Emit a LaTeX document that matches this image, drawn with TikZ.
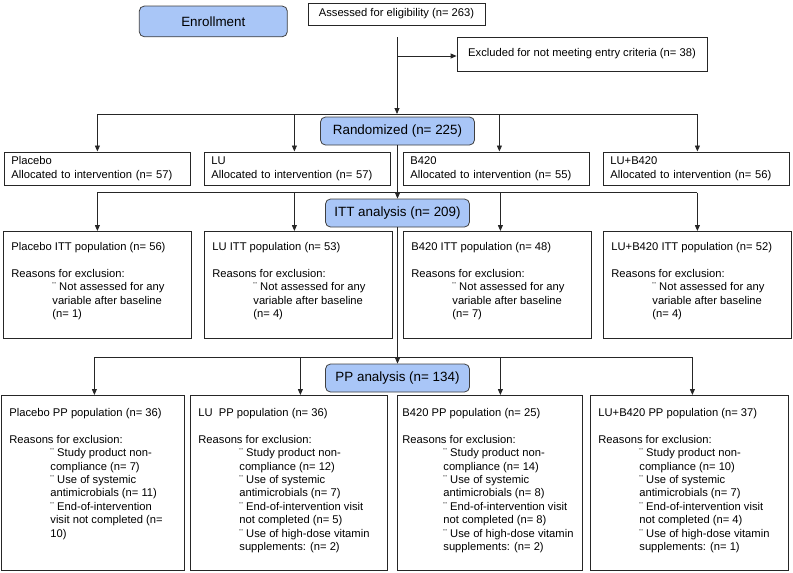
\documentclass[tikz,border=0pt]{standalone}
\usepackage{fontspec}
\setmainfont{Liberation Sans}
\usetikzlibrary{arrows.meta}
\definecolor{headblue}{RGB}{169,198,247}
\tikzset{>={Triangle[length=6pt,width=5pt]}}
\tikzset{
  head/.style={draw=black!75, fill=headblue, rounded corners=5pt, inner sep=0pt,
    font=\fontsize{13.4}{16}\selectfont},
  plain/.style={draw=black!85, inner sep=0pt, font=\fontsize{11.2}{13.4}\selectfont},
  alloc/.style={draw=black!85, anchor=north west, align=left, text width=172pt,
    inner xsep=7pt, inner ysep=0pt, minimum height=33.5pt,
    font=\fontsize{11.2}{13.4}\selectfont},
  popbox/.style={draw=black!85, anchor=north west, inner xsep=8pt, inner ysep=#1,
    font=\fontsize{11.2}{13.4}\selectfont},
  wire/.style={black!85, line width=0.8pt}
}
\newcommand{\boxtext}[3]{\parbox[c][#1][t]{#2}{\raggedright #3}}
\newcommand{\bul}{\hspace*{41pt}}

\begin{document}
\begin{tikzpicture}[x=1pt,y=-1pt,line width=0.8pt]
    \useasboundingbox (0,0) rectangle (793,573);
    \node[head, minimum width=148pt, minimum height=30.7pt] (enrol) at (213.3,21.4) {Enrollment};
    \node[plain, minimum width=177pt, minimum height=22pt] (assess) at (396.5,14) {Assessed for eligibility (n= 263)};
    \node[plain, minimum width=250pt, minimum height=34pt] (excl) at (582,54) {Excluded for not meeting entry criteria (n= 38)};
    \node[head, minimum width=154pt, minimum height=28pt] (rand) at (397.5,131) {Randomized (n= 225)};
    \node[head, minimum width=144pt, minimum height=28pt] (itt) at (397.5,213) {ITT analysis (n= 209)};
    \node[head, minimum width=144pt, minimum height=28pt] (pp) at (397.5,378) {PP analysis (n= 134)};

    \node[alloc] (alA) at (4,151.5) {Placebo\\Allocated to intervention (n= 57)};
    \node[alloc] (alB) at (204,151.5) {LU\\Allocated to intervention (n= 57)};
    \node[alloc] (alC) at (403,151.5) {B420\\Allocated to intervention (n= 55)};
    \node[alloc] (alD) at (603,151.5) {LU+B420\\Allocated to intervention (n= 56)};

    \node[popbox=11pt] (itA) at (3,231) {\boxtext{85pt}{172pt}{Placebo ITT population (n= 56)\\[13.4pt]
        Reasons for exclusion:\\ \bul ¨ Not assessed for any\\ \bul variable after baseline\\ \bul (n= 1)}};
    \node[popbox=11pt] (itB) at (204,231) {\boxtext{85pt}{172pt}{LU ITT population (n= 53)\\[13.4pt]
        Reasons for exclusion:\\ \bul ¨ Not assessed for any\\ \bul variable after baseline\\ \bul (n= 4)}};
    \node[popbox=11pt] (itC) at (403,231) {\boxtext{85pt}{172pt}{B420 ITT population (n= 48)\\[13.4pt]
        Reasons for exclusion:\\ \bul ¨ Not assessed for any\\ \bul variable after baseline\\ \bul (n= 7)}};
    \node[popbox=11pt] (itD) at (603,231) {\boxtext{85pt}{172pt}{LU+B420 ITT population (n= 52)\\[13.4pt]
        Reasons for exclusion:\\ \bul ¨ Not assessed for any\\ \bul variable after baseline\\ \bul (n= 4)}};

    \node[popbox=13pt] (ppA) at (1,395) {\boxtext{149pt}{167pt}{Placebo PP population (n= 36)\\[13.4pt]
        Reasons for exclusion:\\ \bul ¨ Study product non-\\ \bul compliance (n= 7)\\
        \bul ¨ Use of systemic\\ \bul antimicrobials (n= 11)\\ \bul ¨ End-of-intervention\\
        \bul visit not completed (n=\\ \bul 10)}};
    \node[popbox=13pt] (ppB) at (190,395) {\boxtext{149pt}{181pt}{LU\ \ PP population (n= 36)\\[13.4pt]
        Reasons for exclusion:\\ \bul ¨ Study product non-\\ \bul compliance (n= 12)\\
        \bul ¨ Use of systemic\\ \bul antimicrobials (n= 7)\\ \bul ¨ End-of-intervention visit\\
        \bul not completed (n= 5)\\ \bul ¨ Use of high-dose vitamin\\ \bul supplements: (n= 2)}};
    \node[popbox=13pt, inner xsep=5pt] (ppC) at (397,395) {\boxtext{149pt}{175pt}{B420 PP population (n= 25)\\[13.4pt]
        Reasons for exclusion:\\ \bul ¨ Study product non-\\ \bul compliance (n= 14)\\
        \bul ¨ Use of systemic\\ \bul antimicrobials (n= 8)\\ \bul ¨ End-of-intervention visit\\
        \bul not completed (n= 8)\\ \bul ¨ Use of high-dose vitamin\\ \bul supplements: (n= 2)}};
    \node[popbox=13pt] (ppD) at (590,395) {\boxtext{149pt}{182pt}{LU+B420 PP population (n= 37)\\[13.4pt]
        Reasons for exclusion:\\ \bul ¨ Study product non-\\ \bul compliance (n= 10)\\
        \bul ¨ Use of systemic\\ \bul antimicrobials (n= 7)\\ \bul ¨ End-of-intervention visit\\
        \bul not completed (n= 4)\\ \bul ¨ Use of high-dose vitamin\\ \bul supplements: (n= 1)}};

    \coordinate (trunk) at (397,37);
    \coordinate (exsplit) at (397,56);
    \coordinate (rbarL) at (97,114);
    \coordinate (rbarR) at (697,114);
    \coordinate (ibarL) at (97,192.5);
    \coordinate (ibarR) at (697,192.5);
    \coordinate (pbarL) at (94,357);
    \coordinate (pbarR) at (692,357);

    \draw[wire,->] (trunk) -- (trunk |- rbarL);
    \draw[wire,->] (exsplit) -- (exsplit -| excl.west);
    \draw[wire] (rbarL) -- (rbarR);
    \draw[wire] (ibarL) -- (ibarR);
    \draw[wire] (pbarL) -- (pbarR);
    \draw[wire,->] (rand.south) -- (itt.north);
    \draw[wire,->] (itt.south) -- (pp.north);
    \foreach \n/\dx in {alA/0,alB/-3,alC/3,alD/1}
        \draw[wire,->] ([xshift=\dx pt]\n.north |- rbarL) -- ([xshift=\dx pt]\n.north);
    \foreach \n/\dx in {itA/0,itB/-4,itC/3,itD/0}
        \draw[wire,->] ([xshift=\dx pt]\n.north |- ibarL) -- ([xshift=\dx pt]\n.north);
    \foreach \n/\dx in {ppA/1.5,ppB/11.5,ppC/10.5,ppD/3}
        \draw[wire,->] ([xshift=\dx pt]\n.north |- pbarL) -- ([xshift=\dx pt]\n.north);
\end{tikzpicture}
\end{document}
